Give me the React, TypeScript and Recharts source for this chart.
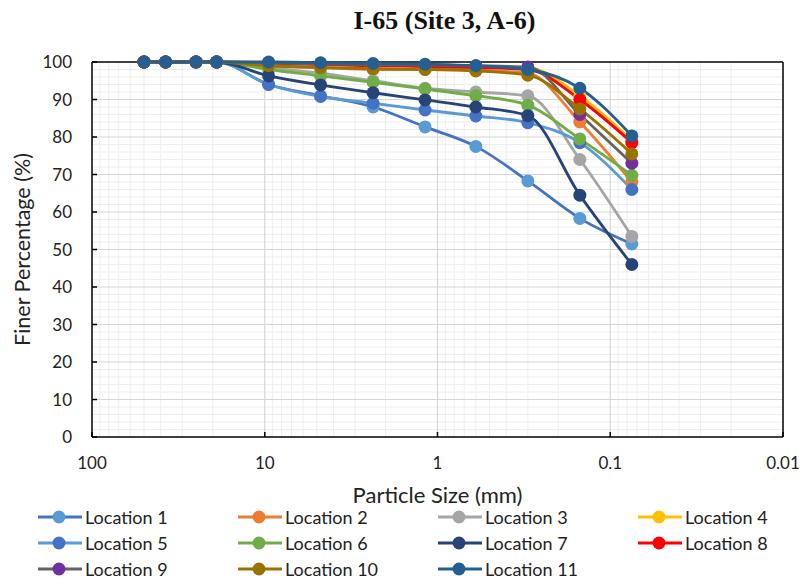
import React from 'react';
import { LineChart, Line, XAxis, YAxis, CartesianGrid, ReferenceLine, Label } from 'recharts';

const sizes = [50, 37.5, 25, 19, 9.5, 4.75, 2.36, 1.18, 0.6, 0.3, 0.15, 0.075];

const loc1 = [100, 100, 100, 100, 94, 91, 88, 82.7, 77.5, 68.3, 58.3, 51.5];
const loc2 = [100, 100, 100, 100, 99, 98.5, 98, 98, 97.8, 97, 84, 68];
const loc3 = [100, 100, 100, 100, 98.5, 97, 95, 93, 92, 91, 74, 53.5];
const loc4 = [100, 100, 100, 100, 99.8, 99.5, 99.2, 99, 98.8, 98.5, 91, 79];
const loc5 = [100, 100, 100, 100, 94, 90.8, 89, 87.2, 85.6, 83.8, 78.5, 66];
const loc6 = [100, 100, 100, 100, 98, 96.3, 94.6, 92.8, 91, 88.5, 79.5, 69.8];
const loc7 = [100, 100, 100, 100, 96.3, 93.9, 91.8, 89.9, 88, 85.7, 64.5, 46];
const loc8 = [100, 100, 100, 100, 99.7, 99.3, 99, 98.8, 98.5, 98, 90, 78.5];
const loc9 = [100, 100, 100, 100, 99.8, 99.5, 99.3, 99.2, 99, 98.7, 86, 73];
const loc10 = [100, 100, 100, 100, 99, 98.5, 98.2, 98, 97.6, 96.5, 87.5, 75.5];
const loc11 = [100, 100, 100, 100, 100, 99.8, 99.6, 99.4, 99, 98, 93, 80.3];

const seriesNames = [
  'Location 1', 'Location 2', 'Location 3', 'Location 4', 'Location 5', 'Location 6',
  'Location 7', 'Location 8', 'Location 9', 'Location 10', 'Location 11',
];
const seriesValues = [loc1, loc2, loc3, loc4, loc5, loc6, loc7, loc8, loc9, loc10, loc11];
const lineColors = ['#4472C4', '#ED7D31', '#A5A5A5', '#FFC000', '#5B9BD5', '#70AD47', '#264478', '#FF0000', '#636363', '#997300', '#255E91'];
const markerColors = ['#5B9BD5', '#ED7D31', '#A5A5A5', '#FFC000', '#4472C4', '#70AD47', '#264478', '#FF0000', '#7030A0', '#997300', '#255E91'];

const xTicks = [100, 10, 1, 0.1, 0.01];
const yTicks = [0, 10, 20, 30, 40, 50, 60, 70, 80, 90, 100];

const data = sizes.map((s, i) => {
  const row: Record<string, number> = { size: s };
  seriesValues.forEach((arr, k) => {
    row['L' + (k + 1)] = arr[i];
  });
  return row;
});

const decades = [0.01, 0.1, 1, 10];
const minorX: number[] = [];
decades.forEach((d) => {
  for (let k = 2; k <= 9; k++) minorX.push(+(d * k).toPrecision(3));
});
const majorX = [10, 1, 0.1];
const minorY: number[] = [];
for (let v = 2; v < 100; v += 2) if (v % 10 !== 0) minorY.push(v);
const majorY = [10, 20, 30, 40, 50, 60, 70, 80, 90];

const FONT = 'Lato, "Open Sans", sans-serif';

const fmt = (v: number) => String(v);

function LegendItem({ name, line, marker }: { name: string; line: string; marker: string }) {
  return (
    <div style={{ display: 'flex', alignItems: 'center', height: 26 }}>
      <svg width={47} height={14} style={{ flex: 'none' }}>
        <line x1={0} y1={7} x2={44} y2={7} stroke={line} strokeWidth={3} />
        <circle cx={21} cy={7} r={6.5} fill={marker} />
      </svg>
      <span style={{ fontFamily: FONT, fontSize: 18, color: '#222', whiteSpace: 'nowrap' }}>{name}</span>
    </div>
  );
}

export default function App() {
  return (
    <div style={{ position: 'absolute', left: 0, top: 0, width: 807, height: 581, background: '#fff' }}>
      <div
        style={{
          position: 'absolute', left: 0, width: 807, top: 6, textAlign: 'center',
          fontFamily: '"Liberation Serif", "Times New Roman", serif', fontWeight: 'bold', fontSize: 26,
          paddingLeft: 82, boxSizing: 'border-box', color: '#111',
        }}
      >
        I-65 (Site 3, A-6)
      </div>
      <LineChart
        width={807}
        height={581}
        data={data}
        margin={{ top: 62, right: 24, bottom: 78, left: 0 }}
        style={{ position: 'absolute', left: 0, top: 0 }}
      >
        <CartesianGrid stroke="#EFEFEF" strokeWidth={1} verticalValues={minorX} horizontalValues={minorY} />
        <CartesianGrid stroke="#D6D6D6" strokeWidth={1.2} verticalValues={majorX} horizontalValues={majorY} />
        <XAxis
          dataKey="size"
          type="number"
          scale="log"
          domain={[0.01, 100]}
          reversed
          allowDataOverflow
          ticks={xTicks}
          tickFormatter={fmt}
          interval={0}
          height={66}
          tickSize={-5}
          tickMargin={25}
          axisLine={{ stroke: '#000', strokeWidth: 1.5 }}
          tickLine={{ stroke: '#000', strokeWidth: 1.5 }}
          tick={{ fill: '#222', fontSize: 17, fontFamily: FONT }}
        >
          <Label value="Particle Size (mm)" position="insideBottom" offset={0} style={{ fontFamily: FONT, fontSize: 22, fill: '#222' }} />
        </XAxis>
        <YAxis
          type="number"
          domain={[0, 100]}
          ticks={yTicks}
          interval={0}
          width={92}
          tickSize={-5}
          tickMargin={25}
          axisLine={{ stroke: '#000', strokeWidth: 1.5 }}
          tickLine={{ stroke: '#000', strokeWidth: 1.5 }}
          tick={{ fill: '#222', fontSize: 17, fontFamily: FONT }}
        >
          <Label
            value="Finer Percentage (%)"
            angle={-90}
            position="insideLeft"
            offset={22}
            style={{ textAnchor: 'middle', fontFamily: FONT, fontSize: 21.5, fill: '#222' }}
          />
        </YAxis>
        <ReferenceLine y={100} stroke="#000" strokeWidth={1.5} />
        <ReferenceLine x={0.01} stroke="#000" strokeWidth={1.5} />
        {seriesNames.map((name, k) => (
          <Line
            key={name}
            name={name}
            dataKey={'L' + (k + 1)}
            type="monotone"
            stroke={lineColors[k]}
            strokeWidth={2.8}
            dot={{ r: 6.5, fill: markerColors[k], stroke: markerColors[k], strokeWidth: 0 }}
            activeDot={false}
            isAnimationActive={false}
          />
        ))}
      </LineChart>
      <div
        style={{
          position: 'absolute', left: 38, top: 504, display: 'grid',
          gridTemplateColumns: '200px 200px 200px 160px', rowGap: 0,
        }}
      >
        {seriesNames.map((name, k) => (
          <LegendItem key={name} name={name} line={lineColors[k]} marker={markerColors[k]} />
        ))}
      </div>
    </div>
  );
}
